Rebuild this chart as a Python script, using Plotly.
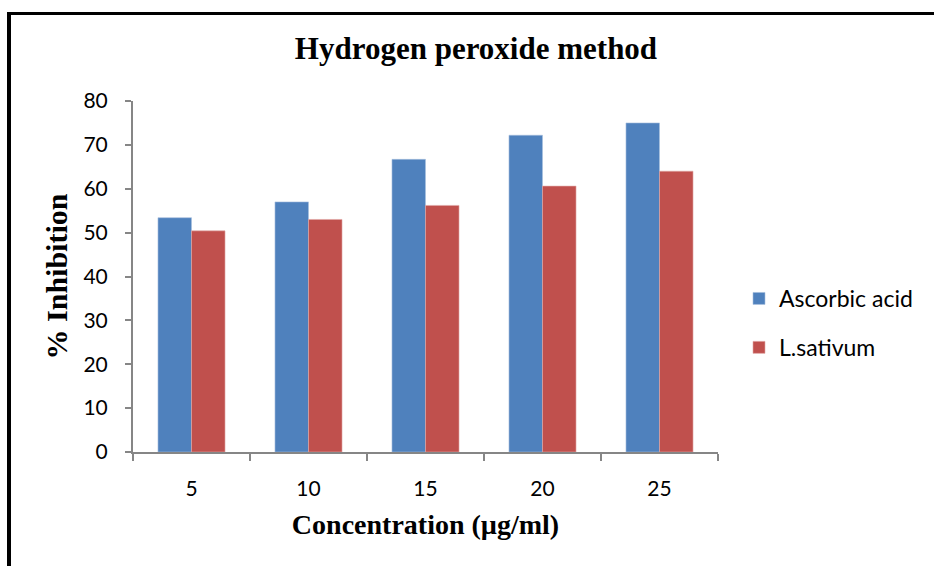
import plotly.graph_objects as go

categories = ["5", "10", "15", "20", "25"]
ascorbic_acid = [53.4, 57.0, 66.7, 72.2, 75.0]
l_sativum = [50.4, 53.0, 56.2, 60.6, 64.0]
y_ticks = [0, 10, 20, 30, 40, 50, 60, 70, 80]

W, H = 934, 566
L, R, T, B = 133, 216, 101, 114
pw, ph = W - L - R, H - T - B

def px_x(x):
    return (x - L) / pw

def px_y(y):
    return (H - B - y) / ph

tick_font = dict(family="Lato, 'Open Sans', sans-serif", size=21, color="#000000")
legend_font = dict(family="Lato, 'Open Sans', sans-serif", size=23, color="#000000")
serif = "'Liberation Serif', 'Times New Roman', serif"

fig = go.Figure()
fig.add_trace(go.Bar(
    x=categories, y=ascorbic_acid, name="Ascorbic acid",
    marker=dict(color="#4F81BD", line=dict(color="#A7C0DE", width=0.6)),
    legendgroup="a",
))
fig.add_trace(go.Bar(
    x=categories, y=l_sativum, name="L.sativum",
    marker=dict(color="#C0504D", line=dict(color="#E0A8A6", width=0.6)),
    legendgroup="b",
))

fig.update_layout(
    width=W, height=H,
    margin=dict(l=L, r=R, t=T, b=B, autoexpand=False),
    paper_bgcolor="white", plot_bgcolor="white",
    barmode="group", bargap=0.427, bargroupgap=0,
    title=dict(
        text="<b>Hydrogen peroxide method</b>",
        font=dict(family=serif, size=31, color="#000000"),
        x=476 / W, xanchor="center", xref="container",
        y=1 - 48 / H, yanchor="middle", yref="container",
    ),
    legend=dict(
        x=px_x(739), xanchor="left",
        y=px_y(323), yanchor="middle",
        font=legend_font,
        traceorder="grouped", tracegroupgap=16,
        bgcolor="rgba(0,0,0,0)",
    ),
    showlegend=True,
    xaxis=dict(
        type="category",
        showline=True, linecolor="#868686", linewidth=2,
        ticks="outside", tickson="boundaries", ticklen=7, tickwidth=1.5, tickcolor="#868686",
        tickfont=tick_font, showgrid=False, zeroline=False,
        ticklabelstandoff=17,
        title=dict(text="<b>Concentration (µg/ml)</b>", font=dict(family=serif, size=28, color="#000000"), standoff=15),
    ),
    yaxis=dict(
        range=[0, 80], tickvals=y_ticks,
        showline=True, linecolor="#868686", linewidth=2,
        ticks="outside", ticklen=6, tickwidth=1.5, tickcolor="#868686",
        tickfont=tick_font, showgrid=False, zeroline=False,
        ticklabelstandoff=13,
        title=dict(text="<b>% Inhibition</b>", font=dict(family=serif, size=30, color="#000000"), standoff=7),
    ),
    shapes=[
        dict(type="line", xref="paper", yref="paper",
             x0=px_x(9), x1=px_x(9), y0=px_y(12), y1=px_y(600),
             line=dict(color="#000000", width=4)),
        dict(type="line", xref="paper", yref="paper",
             x0=px_x(7), x1=px_x(960), y0=px_y(13.5), y1=px_y(13.5),
             line=dict(color="#000000", width=3)),
    ],
)

fig.write_html(
    "out.html",
    config={"displayModeBar": False},
    post_script="document.body.style.margin='0';document.body.style.overflow='hidden';",
)
